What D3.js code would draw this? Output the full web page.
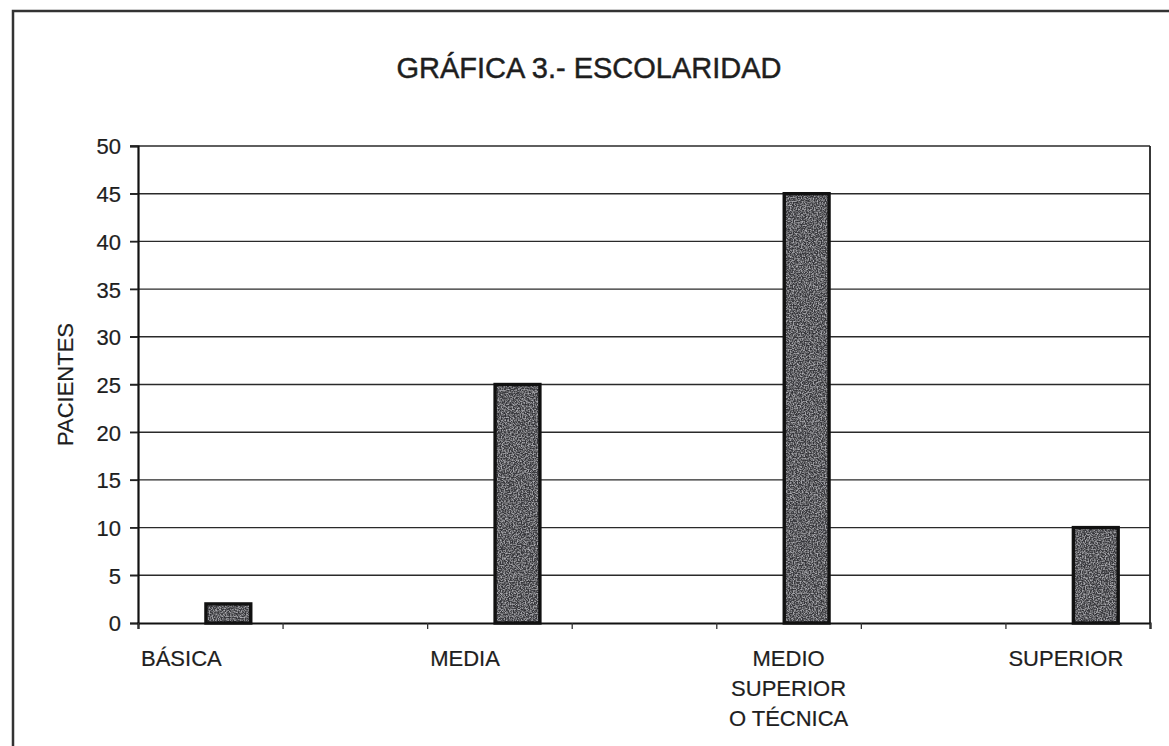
<!DOCTYPE html>
<html>
<head>
<meta charset="utf-8">
<script src="https://cdn.jsdelivr.net/npm/d3@7"></script>
<style>
  html, body { margin: 0; padding: 0; background: #fff; }
  svg { display: block; }
  text { font-family: "Liberation Sans", Arial, sans-serif; fill: #1e1e1e; stroke: #1e1e1e; stroke-width: 0.2px; }
</style>
</head>
<body>
<script>
// Escolaridad de los pacientes
const categories = ["BÁSICA", "MEDIA", "MEDIO SUPERIOR O TÉCNICA", "SUPERIOR"];
const categoryLines = [["BÁSICA"], ["MEDIA"], ["MEDIO", "SUPERIOR", "O TÉCNICA"], ["SUPERIOR"]];
const pacientes = [2, 25, 45, 10];
const yTicks = [0, 5, 10, 15, 20, 25, 30, 35, 40, 45, 50];

const W = 1169, H = 746;
const plot = { left: 138, right: 1150, top: 146, bottom: 623 };

const svg = d3.select("body").append("svg").attr("width", W).attr("height", H);

// speckled grey fill for the columns
const defs = svg.append("defs");
const f = defs.append("filter").attr("id", "grain")
  .attr("x", 0).attr("y", 0).attr("width", 1).attr("height", 1)
  .attr("color-interpolation-filters", "sRGB");
f.append("feTurbulence").attr("type", "fractalNoise").attr("baseFrequency", 0.75).attr("numOctaves", 2).attr("seed", 3).attr("result", "noise");
f.append("feColorMatrix").attr("in", "noise").attr("type", "matrix")
  .attr("values", "0 0 0 0 0.18  0 0 0 0 0.18  0 0 0 0 0.2  0 0 0 -3 1.75").attr("result", "darkSpots");
f.append("feColorMatrix").attr("in", "noise").attr("type", "matrix")
  .attr("values", "0 0 0 0 0.68  0 0 0 0 0.68  0 0 0 0 0.7  0 0 0 3 -1.3").attr("result", "lightSpots");
f.append("feComposite").attr("in", "darkSpots").attr("in2", "SourceGraphic").attr("operator", "in").attr("result", "d1");
f.append("feComposite").attr("in", "lightSpots").attr("in2", "SourceGraphic").attr("operator", "in").attr("result", "l1");
f.append("feMerge").selectAll("feMergeNode").data(["SourceGraphic", "d1", "l1"]).join("feMergeNode").attr("in", d => d);

// outer frame of the chart area
svg.append("path")
  .attr("d", `M13,${H} L13,11 L${W},11`)
  .attr("fill", "none").attr("stroke", "#333").attr("stroke-width", 2.5);

// title
svg.append("text")
  .attr("x", 589).attr("y", 78)
  .attr("text-anchor", "middle")
  .style("font-size", "29px")
  .style("stroke-width", "0.45px")
  .text("GRÁFICA 3.- ESCOLARIDAD");

const nSlots = categories.length * 2 - 1;
const x = d3.scaleLinear().domain([0, nSlots]).range([plot.left, plot.right]);
const y = d3.scaleLinear().domain([0, 50]).range([plot.bottom, plot.top]);

// horizontal gridlines
svg.append("g").selectAll("line").data(yTicks.filter(d => d > 0)).join("line")
  .attr("x1", plot.left - 8).attr("x2", plot.right)
  .attr("y1", d => y(d)).attr("y2", d => y(d))
  .attr("stroke", "#2a2a2a").attr("stroke-width", 1.4);

// y axis
const yAxis = svg.append("g").attr("transform", `translate(${plot.left},0)`)
  .call(d3.axisLeft(y).tickValues(yTicks).tickSize(8).tickPadding(9));
yAxis.select(".domain").attr("stroke", "#111").attr("stroke-width", 2.2);
yAxis.selectAll(".tick line").attr("stroke", "#222").attr("stroke-width", 1.4);
yAxis.selectAll(".tick text")
  .style("font-size", "22px").style("font-family", "'Liberation Sans', Arial, sans-serif")
  .attr("fill", "#1e1e1e").attr("dy", "0.36em");

// right border of the plot
svg.append("line")
  .attr("x1", plot.right).attr("x2", plot.right)
  .attr("y1", plot.top).attr("y2", plot.bottom)
  .attr("stroke", "#222").attr("stroke-width", 1.8);

// x axis with a tick at every slot boundary
const xAxis = svg.append("g").attr("transform", `translate(0,${plot.bottom})`)
  .call(d3.axisBottom(x).tickValues(d3.range(0, nSlots + 1)).tickSize(6).tickFormat(""));
xAxis.select(".domain").attr("stroke", "#111").attr("stroke-width", 2.2);
xAxis.selectAll(".tick line").attr("stroke", "#333").attr("stroke-width", 1.3);

// columns: grainy fill, then a crisp dark outline
const slotW = x(1) - x(0);
const bars = svg.append("g").selectAll("g").data(pacientes).join("g");
bars.append("rect")
  .attr("x", (d, i) => x(2 * i + 0.47))
  .attr("width", slotW * 0.31)
  .attr("y", d => y(d))
  .attr("height", d => y(0) - y(d))
  .attr("fill", "#5a5a5d")
  .attr("filter", "url(#grain)");
bars.append("rect")
  .attr("x", (d, i) => x(2 * i + 0.47))
  .attr("width", slotW * 0.31)
  .attr("y", d => y(d))
  .attr("height", d => y(0) - y(d))
  .attr("fill", "none")
  .attr("stroke", "#111").attr("stroke-width", 3.4);

// category labels: single lines sit at the start of their slot, wrapped ones are centred
const lab = svg.append("g").selectAll("text").data(categoryLines).join("text")
  .style("font-size", "22px")
  .attr("text-anchor", d => d.length > 1 ? "middle" : "start")
  .attr("x", (d, i) => d.length > 1 ? x(2 * i + 0.5) : x(2 * i) + 3)
  .attr("y", 666);
lab.selectAll("tspan").data(d => d).join("tspan")
  .attr("x", function () { return this.parentNode.getAttribute("x"); })
  .attr("dy", (d, j) => j === 0 ? 0 : 30)
  .text(d => d);

// y axis title
svg.append("text")
  .attr("transform", `translate(73,${(plot.top + plot.bottom) / 2}) rotate(-90)`)
  .attr("text-anchor", "middle")
  .style("font-size", "22px")
  .text("PACIENTES");
</script>
</body>
</html>
